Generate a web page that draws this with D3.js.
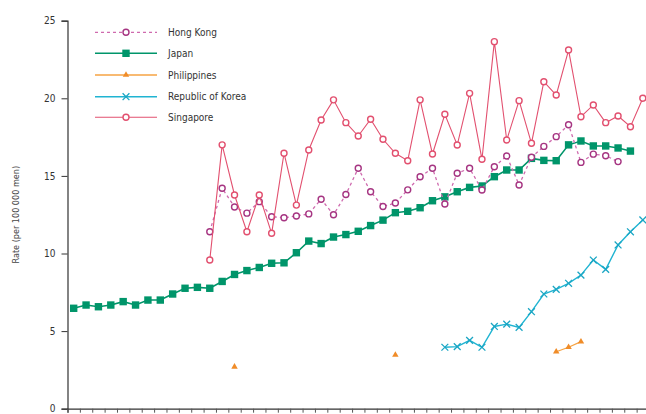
<!DOCTYPE html>
<html>
<head>
<meta charset="utf-8">
<script src="https://cdn.jsdelivr.net/npm/d3@7/dist/d3.min.js"></script>
<style>
html,body{margin:0;padding:0;background:#fff;}
svg{display:block;font-family:"DejaVu Sans",sans-serif;}
</style>
</head>
<body>
<svg id="chart" width="646" height="414"></svg>
<script>
// ---- data (index 0 = first year on axis) ----
const years = d3.range(1955, 2002); // 47 years
const yTicks = [0, 5, 10, 15, 20, 25];
const seriesNames = ["Hong Kong", "Japan", "Philippines", "Republic of Korea", "Singapore"];

const japan = [6.47,6.68,6.57,6.68,6.9,6.68,7.0,7.0,7.39,7.76,7.82,7.76,8.2,8.65,8.9,9.1,9.37,9.4,10.05,10.8,
  10.64,11.06,11.22,11.43,11.8,12.15,12.63,12.72,12.95,13.4,13.65,13.98,14.26,14.35,14.95,15.38,15.38,16.13,16.0,15.98,
  17.0,17.25,16.93,16.93,16.8,16.6,null];
const hongKong = [null,null,null,null,null,null,null,null,null,null,null,11.4,14.2,13.0,12.6,13.34,12.37,12.3,12.42,12.55,
  13.5,12.5,13.8,15.49,13.98,13.03,13.25,14.1,14.95,15.49,13.19,15.17,15.49,14.09,15.59,16.28,14.41,16.2,16.9,17.53,
  18.3,15.87,16.4,16.3,15.92,null,null];
const singapore = [null,null,null,null,null,null,null,null,null,null,null,9.58,17.0,13.77,11.4,13.77,11.3,16.46,13.12,16.67,
  18.6,19.9,18.43,17.57,18.65,17.36,16.46,15.98,19.9,16.41,18.97,16.99,20.32,16.07,23.65,17.31,19.85,17.1,21.07,20.21,
  23.11,18.81,19.57,18.43,18.86,18.17,20.0];
const korea = [null,null,null,null,null,null,null,null,null,null,null,null,null,null,null,null,null,null,null,null,
  null,null,null,null,null,null,null,null,null,null,3.96,4.0,4.4,3.96,5.3,5.45,5.24,6.25,7.39,7.69,
  8.08,8.61,9.58,8.98,10.55,11.4,12.16];
const philippines = [null,null,null,null,null,null,null,null,null,null,null,null,null,2.7,null,null,null,null,null,null,
  null,null,null,null,null,null,3.46,null,null,null,null,null,null,null,null,null,null,null,null,3.67,
  3.96,4.32,null,null,null,null,null];

// ---- layout ----
const svg = d3.select("#chart");
const x = d3.scaleLinear().domain([years[0] - 0.5, years[years.length - 1] + 0.5]).range([67.5, 649]);
const y = d3.scaleLinear().domain([0, 25]).range([408.7, 20.7]);

// axes
const yAxis = svg.append("g").attr("transform", "translate(67.5,0)")
  .call(d3.axisLeft(y).tickValues(yTicks).tickSize(6).tickPadding(6));
yAxis.select(".domain").attr("stroke", "#333").attr("stroke-width", 1.2);
yAxis.selectAll(".tick line").attr("stroke", "#333");
yAxis.selectAll("text").attr("font-size", 10).attr("fill", "#333")
  .attr("font-family", "'DejaVu Sans Condensed','DejaVu Sans',sans-serif");

const xTickVals = d3.range(years[0] - 0.5, years[years.length - 1] + 1, 1);
const xAxis = svg.append("g").attr("transform", "translate(0,408.7)")
  .call(d3.axisBottom(x).tickValues(xTickVals).tickSize(4).tickFormat(""));
xAxis.select(".domain").attr("stroke", "#333").attr("stroke-width", 1.2);
xAxis.selectAll(".tick line").attr("stroke", "#555");

svg.append("text")
  .attr("transform", "translate(19,214.7) rotate(-90)")
  .attr("text-anchor", "middle")
  .attr("font-size", 9).attr("fill", "#444")
  .attr("font-family", "'DejaVu Sans Condensed','DejaVu Sans',sans-serif")
  .text("Rate (per 100 000 men)");

// series styles
const cfg = {
  "Hong Kong": {data: hongKong, color: "#cf6aae", mcolor: "#a63582", dash: "3,3", width: 1.3, marker: "circleOpen"},
  "Japan": {data: japan, color: "#00956a", mcolor: "#00956a", dash: null, width: 1.6, marker: "square"},
  "Philippines": {data: philippines, color: "#f6a343", mcolor: "#f08c28", dash: null, width: 1.3, marker: "triangle"},
  "Republic of Korea": {data: korea, color: "#20b4d2", mcolor: "#1aa6c4", dash: null, width: 1.4, marker: "cross"},
  "Singapore": {data: singapore, color: "#e2506f", mcolor: "#e2506f", dash: null, width: 1.1, marker: "circleOpen"}
};

function drawMarker(g, type, color, cx, cy) {
  if (type === "square") {
    g.append("rect").attr("x", cx - 3.7).attr("y", cy - 3.7).attr("width", 7.4).attr("height", 7.4)
      .attr("fill", color);
  } else if (type === "circleOpen") {
    g.append("circle").attr("cx", cx).attr("cy", cy).attr("r", 3)
      .attr("fill", "#fff").attr("stroke", color).attr("stroke-width", 1.4);
  } else if (type === "triangle") {
    g.append("path").attr("d", d3.symbol(d3.symbolTriangle, 18)()).attr("transform", `translate(${cx},${cy})`)
      .attr("fill", color);
  } else if (type === "cross") {
    const r = 3.4;
    g.append("path").attr("d", `M${cx - r},${cy - r}L${cx + r},${cy + r}M${cx - r},${cy + r}L${cx + r},${cy - r}`)
      .attr("stroke", color).attr("stroke-width", 1.3).attr("fill", "none");
  }
}

const drawOrder = ["Japan", "Hong Kong", "Singapore", "Republic of Korea", "Philippines"];
drawOrder.forEach(name => {
  const c = cfg[name];
  const pts = years.map((yr, i) => ({yr, v: c.data[i]}));
  const line = d3.line().defined(d => d.v != null).x(d => x(d.yr)).y(d => y(d.v));
  const g = svg.append("g");
  g.append("path").datum(pts).attr("d", line).attr("fill", "none")
    .attr("stroke", c.color).attr("stroke-width", c.width)
    .attr("stroke-dasharray", c.dash);
  pts.filter(d => d.v != null).forEach(d => drawMarker(g, c.marker, c.mcolor, x(d.yr), y(d.v)));
});

// legend
const lg = svg.append("g");
const legendY = [32.3, 53.3, 75, 96.7, 117.3];
seriesNames.forEach((name, i) => {
  const c = cfg[name];
  const yy = legendY[i];
  lg.append("line").attr("x1", 95).attr("x2", 157).attr("y1", yy).attr("y2", yy)
    .attr("stroke", c.color).attr("stroke-width", c.width).attr("stroke-dasharray", c.dash);
  drawMarker(lg, c.marker, c.mcolor, 126, yy);
  lg.append("text").attr("x", 168).attr("y", yy).attr("dy", "0.35em")
    .attr("font-size", 10).attr("fill", "#333")
    .attr("font-family", "'DejaVu Sans Condensed','DejaVu Sans',sans-serif")
    .text(name);
});
</script>
</body>
</html>
